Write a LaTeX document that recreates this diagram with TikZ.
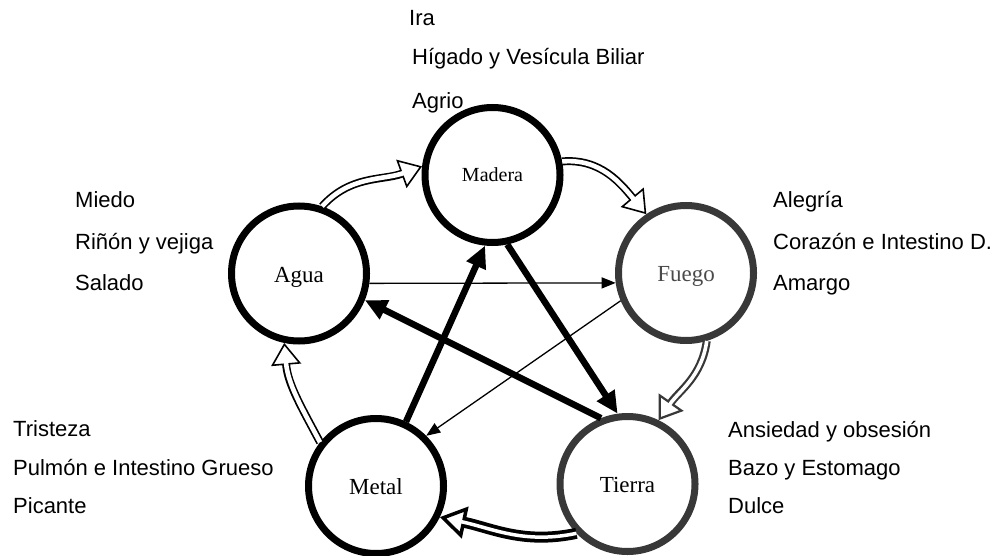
\documentclass[tikz,border=0pt]{standalone}
\usepackage{fontspec}
\setmainfont{Liberation Sans}
\newfontfamily\elemfont{Liberation Serif}
\usetikzlibrary{arrows.meta}
\definecolor{dgray}{HTML}{383838}
\definecolor{fgray}{HTML}{4A4A4A}
\begin{document}
\begin{tikzpicture}[x=1pt,y=1pt,
  elem/.style={circle, draw, line width=7pt, minimum size=135pt, inner sep=0pt,
    text height=17pt, text depth=0pt, font=\elemfont\fontsize{23}{23}\selectfont},
  lbl/.style={anchor=base west, inner sep=0pt, font=\fontsize{22}{22}\selectfont},
  ctrl/.style={line width=6.5pt, -{Triangle[length=22pt,width=20pt]}},
  thinarr/.style={line width=1.3pt, -{Triangle[length=14pt,width=11pt]}},
  gen/.style={line width=8pt, -{Triangle[open,fill=white,line width=1.6pt,length=22pt,width=30pt]}},
  geninner/.style={white, line width=4.6pt, shorten >=19pt},
  gengray/.style={dgray, line width=8pt, -{Triangle[open,fill=white,line width=2.2pt,length=22pt,width=30pt]}},
  gengrayinner/.style={white, line width=3.6pt, shorten >=19pt},
  genbold/.style={line width=11pt, -{Triangle[open,fill=white,line width=3.5pt,length=26pt,width=32pt]}},
  genboldinner/.style={white, line width=3.5pt, shorten >=22pt},
]
\useasboundingbox (0,0) rectangle (1000,555);

% elements
\node[elem, text height=13pt, font=\elemfont\fontsize{20}{20}\selectfont] (madera) at (492.5,380) {Madera};
\node[elem] (agua) at (299,281.5) {Agua};
\node[elem, draw=dgray, text=fgray] (fuego) at (686,282) {Fuego};
\node[elem] (metal) at (376,69) {Metal};
\node[elem, draw=dgray] (tierra) at (627.5,71) {Tierra};

% labels
\node[lbl] (l1) at (409,529) {Ira};
\node[lbl] (l2) at (412,490) {Hígado y Vesícula Biliar};
\node[lbl] (l3) at (412,446) {Agrio};
\node[lbl] (l4) at (75,347) {Miedo};
\node[lbl] (l5) at (75,306) {Riñón y vejiga};
\node[lbl] (l6) at (75,265) {Salado};
\node[lbl] (l7) at (773,347) {Alegría};
\node[lbl] (l8) at (773,306) {Corazón e Intestino D.};
\node[lbl] (l9) at (773,265) {Amargo};
\node[lbl] (l10) at (13,119) {Tristeza};
\node[lbl] (l11) at (13,80) {Pulmón e Intestino Grueso};
\node[lbl] (l12) at (13,42) {Picante};
\node[lbl] (l13) at (728,118) {Ansiedad y obsesión};
\node[lbl] (l14) at (728,80) {Bazo y Estomago};
\node[lbl] (l15) at (728,42) {Dulce};

% control cycle (thick)
\draw[ctrl] (metal.65) -- (madera.264);
\draw[ctrl] (madera.282) -- (tierra.98);
\draw[ctrl] (tierra.112) -- (agua.338);

% thin arrows
\draw[thinarr] (agua.352) -- (fuego.188);
\draw[thinarr] (fuego.203) -- (metal.45);

% generating cycle (hollow)
\draw[gen] (agua.71) to[out=48,in=200] (madera.173);
\draw[geninner] (agua.71) to[out=48,in=200] (madera.173);

\draw[gen] (madera.11) to[out=5,in=130] (fuego.124);
\draw[geninner] (madera.11) to[out=5,in=130] (fuego.124);

\draw[gengray] (fuego.287) to[out=262,in=55] (tierra.64);
\draw[gengrayinner] (fuego.287) to[out=262,in=55] (tierra.64);

\draw[genbold] (tierra.224) to[out=192,in=348] (metal.334);
\draw[genboldinner] (tierra.224) to[out=192,in=348] (metal.334);

\draw[gen] (metal.142) to[out=118,in=275] (agua.258);
\draw[geninner] (metal.142) to[out=118,in=275] (agua.258);
\end{tikzpicture}
\end{document}
